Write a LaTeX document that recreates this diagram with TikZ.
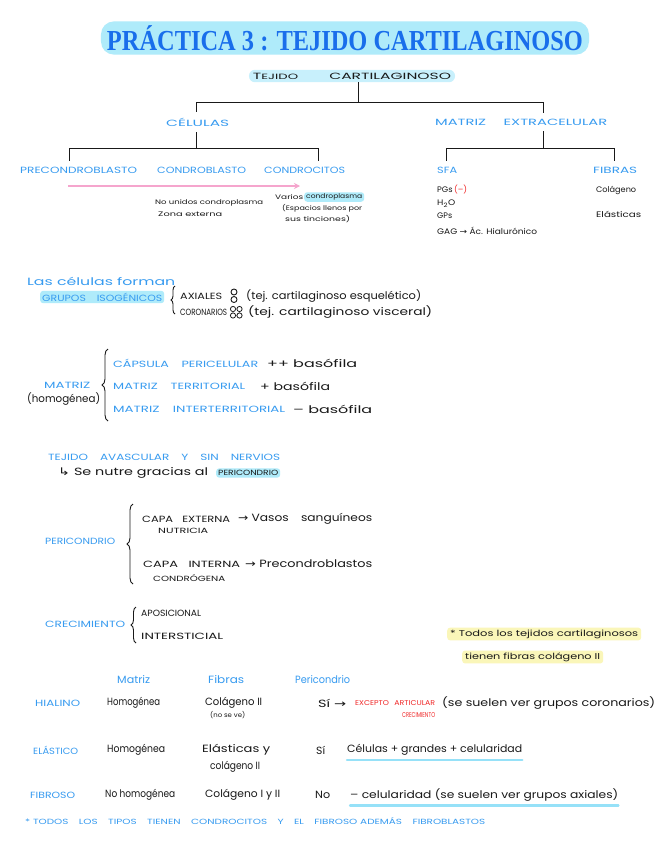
\documentclass[tikz,border=0pt]{standalone}
\usepackage{fontspec}
\usepackage{graphicx}
\setmainfont{Poppins}
\newfontfamily\titlefont{Liberation Serif}
\newfontfamily\djfont{DejaVu Sans}
\usetikzlibrary{decorations.pathreplacing,arrows.meta}
\definecolor{hblue}{RGB}{55,155,240}
\definecolor{tblue}{RGB}{25,110,235}
\definecolor{ink}{RGB}{25,25,25}
\definecolor{hred}{RGB}{240,40,40}
\definecolor{hlc}{RGB}{175,235,250}
\definecolor{hlc2}{RGB}{200,240,252}
\definecolor{hly}{RGB}{250,246,185}
\definecolor{pinkc}{RGB}{245,165,205}
\definecolor{ulc}{RGB}{150,225,248}
\newcommand\fitw[2]{\resizebox{#1pt}{\height}{#2}}
\newcommand\tx[6]{\node[#5] (#1) at (#2,#3) {\fitw{#4}{#6}};}
\newcommand\rarr{{\djfont →}}
\tikzset{
  hand/.style={anchor=west, inner sep=0pt, text=ink, font=\fontsize{9}{10}\selectfont},
  handl/.style={hand, font=\fontsize{10.5}{12}\selectfont},
  hand7/.style={hand, font=\fontsize{7.5}{9}\selectfont},
  sm/.style={hand, font=\fontsize{6.5}{8}\selectfont},
  sm8/.style={hand, font=\fontsize{8}{9}\selectfont},
  bl/.style={hand, text=hblue},
  bl7/.style={hand, text=hblue, font=\fontsize{7.5}{9}\selectfont},
  blh/.style={hand, text=hblue, font=\fontsize{10.5}{12}\selectfont},
  treen/.style={bl, inner ysep=6pt},
  redt/.style={hand, text=hred, font=\fontsize{7}{8}\selectfont},
  tree/.style={draw=ink, line width=1pt},
  brc/.style={decorate, decoration={brace, amplitude=5pt}, draw=ink, line width=0.9pt},
  pinkarr/.style={-{Stealth[length=6pt,width=6pt]}, draw=pinkc, line width=1.4pt},
  uline/.style={draw=ulc, line width=2.2pt, line cap=round},
  hlbox/.style={fill=hlc, rounded corners=3pt, inner xsep=2pt, inner ysep=2pt},
}
\begin{document}
\begin{tikzpicture}[x=1pt,y=-1pt]
\useasboundingbox[fill=white] (0,0) rectangle (656,848);
% title
\node[fill=hlc, rounded corners=13pt, inner xsep=6pt, inner ysep=4pt] (title) at (345,38)
  {\fitw{476}{\titlefont\bfseries\fontsize{29}{31}\selectfont\color{tblue}PRÁCTICA 3 : TEJIDO CARTILAGINOSO}};
\node[fill=hlc2, rounded corners=6pt, inner xsep=4pt, inner ysep=3pt, text=ink, font=\fontsize{9}{10}\selectfont] (tc) at (352,76)
  {\fitw{198}{T\scalebox{0.85}{EJIDO}\hspace{2em}CARTILAGINOSO}};
% level 1
\tx{cel}{166}{122}{63}{treen}{CÉLULAS}
\tx{mat}{435}{122}{172}{treen}{MATRIZ\hspace{1.2em}EXTRACELULAR}
\coordinate (j0) at (358,103);
\coordinate (jl) at (196,103);
\coordinate (jr) at (543,103);
\draw[tree] (tc.south -| j0) -- (j0);
\draw[tree] (cel.north -| jl) -- (jl) -- (jr) -- (mat.north -| jr);
% level 2
\tx{pre}{20}{170}{117}{treen}{PRECONDROBLASTO}
\tx{cbl}{157}{170}{89}{treen}{CONDROBLASTO}
\tx{cond}{264}{170}{81}{treen}{CONDROCITOS}
\tx{sfa}{437}{170}{20}{treen}{SFA}
\tx{fib}{593}{170}{44}{treen}{FIBRAS}
\coordinate (k0) at (196,148);
\coordinate (kl) at (69,148);
\coordinate (kr) at (318,148);
\draw[tree] (cel.south -| k0) -- (k0);
\draw[tree] (pre.north -| kl) -- (kl) -- (kr) -- (cond.north -| kr);
\coordinate (m0) at (543,148);
\coordinate (ml) at (446,148);
\coordinate (mr) at (614,148);
\draw[tree] (mat.south -| m0) -- (m0);
\draw[tree] (sfa.north -| ml) -- (ml) -- (mr) -- (fib.north -| mr);
% pink arrow
\coordinate (pa) at (68,186);
\coordinate (pb) at (300,186);
\draw[pinkarr] (pa) -- (pb);
\tx{nu1}{155}{203}{108}{sm}{No unidos condroplasma}
\tx{nu2}{158}{214}{64}{sm}{Zona externa}
\tx{va1}{275}{197}{28}{sm}{Varios}
\node[sm, hlbox, inner ysep=1.5pt] (va1h) at (304,197) {\fitw{56}{condroplasma}};
\tx{va2}{282}{208}{80}{sm}{(Espacios llenos por}
\tx{va3}{285}{219}{65}{sm}{sus tinciones)}
% SFA / fibras
\tx{s1}{437}{190}{30}{sm8}{PGs\,\textcolor{hred}{(–)}}
\tx{s2}{437}{204}{18}{sm8}{H\textsubscript{2}O}
\tx{s3}{437}{216}{15}{sm8}{GPs}
\tx{s4}{437}{231}{100}{sm8}{GAG \rarr\ Ác. Hialurónico}
\tx{f1}{596}{190}{40}{sm8}{Colágeno}
\tx{f2}{596}{214}{45}{sm8}{Elásticas}
% grupos isogenicos
\tx{lcf}{27}{281}{148}{blh}{Las células forman}
\node[bl, hlbox] (gi) at (40,297) {\fitw{120}{GRUPOS\hspace{1em}ISOGÉNICOS}};
\coordinate (gb1) at (175,314);
\coordinate (gb2) at (175,286);
\draw[brc, decoration={brace, amplitude=4pt}] (gb1) -- (gb2);
\tx{ax}{180}{296}{42}{hand}{AXIALES}
\draw[ink, line width=0.9pt] (234,292) circle (3) (234,299.5) circle (3);
\tx{axt}{246}{296}{175}{handl}{(tej. cartilaginoso esquelético)}
\tx{co}{180}{312}{47}{hand}{CORONARIOS}
\draw[ink, line width=0.8pt] (233,309) circle (2.6) (239.5,309) circle (2.6) (233,315.5) circle (2.6) (239.5,315.5) circle (2.6);
\tx{cot}{248}{312}{184}{handl}{(tej. cartilaginoso visceral)}
% matriz
\tx{mz}{44}{385}{46}{bl}{MATRIZ}
\tx{hom}{27}{399}{73}{handl}{(homogénea)}
\coordinate (mb1) at (108,421);
\coordinate (mb2) at (108,349);
\draw[brc, decoration={brace, amplitude=6pt}] (mb1) -- (mb2);
\tx{cap}{113}{363}{145}{bl}{CÁPSULA\hspace{1em}PERICELULAR}
\tx{capb}{267}{363}{90}{handl}{++ basófila}
\tx{mt}{113}{386}{132}{bl}{MATRIZ\hspace{1em}TERRITORIAL}
\tx{mtb}{260}{386}{70}{handl}{+ basófila}
\tx{mi}{113}{409}{172}{bl}{MATRIZ\hspace{1em}INTERTERRITORIAL}
\tx{mib}{293}{409}{79}{handl}{– basófila}
% avascular
\tx{av}{48}{457}{232}{bl}{TEJIDO\hspace{1em}AVASCULAR\hspace{1em}Y\hspace{1em}SIN\hspace{1em}NERVIOS}
\tx{av2}{58}{473}{150}{handl}{{\djfont ↳} Se nutre gracias al}
\node[hand, hlbox, font=\fontsize{7.5}{9}\selectfont] (av3) at (216,473) {\fitw{60}{PERICONDRIO}};
% pericondrio
\tx{pc}{45}{541}{70}{bl}{PERICONDRIO}
\coordinate (pb1) at (133,584);
\coordinate (pb2) at (133,504);
\draw[brc, decoration={brace, amplitude=6pt}] (pb1) -- (pb2);
\tx{ce}{142}{519}{88}{hand}{CAPA\hspace{0.8em}EXTERNA}
\tx{ce2}{238}{519}{134}{handl}{\rarr\ Vasos\hspace{1em}sanguíneos}
\tx{ce3}{158}{531}{50}{hand7}{NUTRICIA}
\tx{ci}{143}{564}{97}{hand}{CAPA\hspace{0.8em}INTERNA}
\tx{ci2}{245}{564}{127}{handl}{\rarr\ Precondroblastos}
\tx{ci3}{153}{578}{72}{hand7}{CONDRÓGENA}
% crecimiento
\tx{cr}{45}{624}{80}{bl}{CRECIMIENTO}
\coordinate (cb1) at (136,643);
\coordinate (cb2) at (136,607);
\draw[brc, decoration={brace, amplitude=5pt}] (cb1) -- (cb2);
\tx{cr1}{141}{613}{60}{hand}{APOSICIONAL}
\tx{cr2}{141}{636}{82}{hand}{INTERSTICIAL}
% yellow note
\node[hand, fill=hly, rounded corners=3pt, inner xsep=3pt, inner ysep=2pt, font=\fontsize{8.5}{10}\selectfont] (y1) at (447,634) {\fitw{188}{* Todos los tejidos cartilaginosos}};
\node[hand, fill=hly, rounded corners=3pt, inner xsep=3pt, inner ysep=2pt, font=\fontsize{8.5}{10}\selectfont] (y2) at (462,657) {\fitw{135}{tienen fibras colágeno II}};
% table header
\tx{h1}{117}{680}{33}{blh}{Matriz}
\tx{h2}{208}{680}{36}{blh}{Fibras}
\tx{h3}{295}{680}{55}{blh}{Pericondrio}
% hialino
\tx{r1}{35}{703}{45}{bl}{HIALINO}
\tx{r1a}{107}{703}{53}{handl}{Homogénea}
\tx{r1b}{205}{703}{57}{handl}{Colágeno II}
\tx{r1b2}{210}{715}{35}{sm}{(no se ve)}
\tx{r1c}{318}{703}{28}{handl}{Sí \rarr}
\tx{r1d}{355}{703}{80}{redt}{EXCEPTO\hspace{0.7em}ARTICULAR}
\tx{r1d2}{402}{715}{33}{redt}{CRECIMIENTO}
\tx{r1e}{442}{703}{213}{handl}{(se suelen ver grupos coronarios)}
% elastico
\tx{r2}{33}{750}{45}{bl}{ELÁSTICO}
\tx{r2a}{107}{750}{58}{handl}{Homogénea}
\tx{r2b}{202}{750}{68}{handl}{Elásticas y}
\tx{r2b2}{210}{767}{50}{handl}{colágeno II}
\tx{r2c}{316}{750}{9}{handl}{Sí}
\tx{r2d}{347}{750}{175}{handl}{Células + grandes + celularidad}
\draw[uline] ([yshift=-4pt]r2d.south west) -- ([yshift=-4pt]r2d.south east);
% fibroso
\tx{r3}{30}{795}{45}{bl}{FIBROSO}
\tx{r3a}{105}{795}{70}{handl}{No homogénea}
\tx{r3b}{205}{795}{75}{handl}{Colágeno I y II}
\tx{r3c}{315}{795}{15}{handl}{No}
\tx{r3d}{350}{795}{268}{handl}{– celularidad (se suelen ver grupos axiales)}
\draw[uline] ([yshift=-4pt]r3d.south west) -- ([yshift=-4pt]r3d.south east);
% footer
\tx{ft}{25}{821}{460}{bl7}{* TODOS\hspace{1em}LOS\hspace{1em}TIPOS\hspace{1em}TIENEN\hspace{1em}CONDROCITOS\hspace{1em}Y\hspace{1em}EL\hspace{1em}FIBROSO ADEMÁS\hspace{1em}FIBROBLASTOS}
\end{tikzpicture}
\end{document}
